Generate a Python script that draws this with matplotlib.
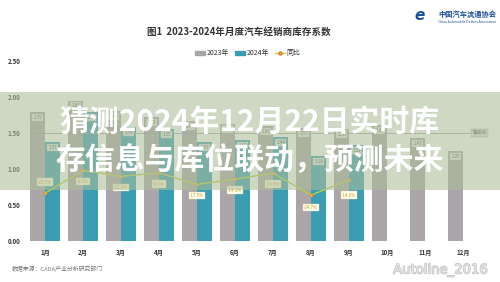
import numpy as np
import matplotlib
matplotlib.use("Agg")
import matplotlib.pyplot as plt
from matplotlib.patches import Rectangle
from matplotlib.lines import Line2D
import matplotlib.patheffects as pe

plt.rcParams['font.family'] = ['Noto Sans CJK SC', 'DejaVu Sans']

# ---- data -------------------------------------------------------------
months = ["1月", "2月", "3月", "4月", "5月", "6月", "7月", "8月", "9月", "10月", "11月", "12月"]
stock_2023 = [1.79, 1.95, 1.80, 1.72, 1.66, 1.63, 1.60, 1.57, 1.56, 1.61, 1.43, 1.25]
stock_2024 = [1.37, 1.79, 1.58, 1.55, 1.37, 1.40, 1.44, 1.18, 1.33]
yoy_pct = [-23.5, -8.2, -12.2, -9.9, -17.5, -14.1, -10.0, -24.7, -14.6]
yticks = [0.00, 0.50, 1.00, 1.50, 2.00, 2.50]
warning_level = 1.50

title = "图1  2023-2024年月度汽车经销商库存系数"
headline = ["猜测2024年12月22日实时库", "存信息与库位联动，预测未来"]

# ---- colours ----------------------------------------------------------
c23 = "#aaa5a8"
c24 = "#3a9db2"
cyoy = "#b9d13a"

W, H = 500, 282
fig = plt.figure(figsize=(W / 100, H / 100), dpi=100)
fig.patch.set_facecolor("white")

ax = fig.add_axes([26 / W, 41 / H, 456 / W, 180 / H])
x = np.arange(len(months))
bw = 0.395
b23 = ax.bar(x - bw / 2, stock_2023, width=bw, color=c23, zorder=2)
b24 = ax.bar(x[:len(stock_2024)] + bw / 2, stock_2024, width=bw, color=c24, zorder=2)

for bars in (b23, b24):
    for r in bars:
        v = r.get_height()
        ax.text(r.get_x() + r.get_width() / 2, v - 0.04, f"{v:.2f}", ha="center", va="top",
                fontsize=3.2, color="#555555", zorder=4,
                bbox=dict(boxstyle="square,pad=0.25", fc="#f4f4ee", ec="#cccccc", lw=0.3, alpha=0.85))

ax.set_xlim(-0.5, len(months) - 0.5)
ax.set_ylim(0, 2.5)
ax.set_yticks(yticks)
ax.set_yticklabels([f"{t:.2f}" for t in yticks])
ax.set_xticks(x)
ax.set_xticklabels(months)
ax.tick_params(axis="both", length=0, labelsize=4.4, colors="#333333")
ax.tick_params(axis="y", pad=4)
ax.tick_params(axis="x", pad=6)
for lab in ax.get_xticklabels() + ax.get_yticklabels():
    lab.set_fontweight("bold")
for s in ax.spines.values():
    s.set_visible(False)
ax.axhline(0, color="#d0d0d0", lw=0.6, zorder=1)
ax.axhline(warning_level, xmin=0.015, xmax=0.972, color="#9a9a9a", lw=0.6, zorder=3)
ax.text(11.25, warning_level, "警戒线", fontsize=3.3, color="#444444",
        ha="left", va="center", zorder=4,
        bbox=dict(boxstyle="square,pad=0.3", fc="#dddddd", ec="#888888", lw=0.3))

# year-on-year line on a hidden secondary axis
ax2 = ax.twinx()
ax2.set_ylim(-55.3, 64.7)
ax2.axis("off")
xi = x[:len(yoy_pct)]
ax2.plot(xi, yoy_pct, color=cyoy, lw=1.0, marker="o", ms=2.2,
         mfc="#f2c61f", mec="#e07a2a", mew=0.4, zorder=5)
offsets = [8, -8, -8, -8, -8, -8, -8, -9, -11]
for xx, v, off in zip(xi, yoy_pct, offsets):
    ax2.annotate(f"{v:.1f}%", (xx, v), textcoords="offset points", xytext=(0, off),
                 ha="center", va="center", fontsize=3.2, color="#c7a21a", zorder=6,
                 bbox=dict(boxstyle="square,pad=0.3", fc="#fffdf0", ec="#e2d9a4", lw=0.3))

# title, legend, source
fig.text(239 / W, 1 - 32 / H, title, ha="center", va="center", fontsize=6.9,
         fontweight="bold", color="#333333")
handles = [Rectangle((0, 0), 1, 1, color=c23), Rectangle((0, 0), 1, 1, color=c24),
           Line2D([0], [0], color=cyoy, lw=1.0, marker="o", ms=2.2, mfc="#f2c61f", mec="#e07a2a")]
fig.legend(handles, ["2023年", "2024年", "同比"], loc="center", bbox_to_anchor=(248 / W, 1 - 53 / H),
           ncol=3, frameon=False, fontsize=5, handlelength=1.4, handleheight=0.5,
           columnspacing=0.8, handletextpad=0.3, labelcolor="#333333")
fig.text(12 / W, 1 - 269 / H, "数据来源：CADA产业分析研究部门", fontsize=4.2, color="#777777",
         ha="left", va="center")

# association mark, top right
fig.text(438 / W, 1 - 14 / H, "中国汽车流通协会", fontsize=5.2, color="#1e4f9e",
         ha="left", va="center", fontweight="bold")
fig.text(438 / W, 1 - 22 / H, "China Automobile Dealers Association", fontsize=2.4,
         color="#1e4f9e", ha="left", va="center")
fig.text(420 / W, 1 - 16 / H, "e", fontsize=11, color="#1e4f9e", ha="center", va="center",
         fontstyle="italic", fontweight="bold", family="DejaVu Sans")

# translucent band with the headline
fig.patches.append(Rectangle((0, 1 - 190 / H), 1, 98 / H, transform=fig.transFigure,
                             facecolor=(0.68, 0.74, 0.60), alpha=0.58, edgecolor="none",
                             zorder=10))
for txt, yc in zip(headline, (122, 160)):
    fig.text(0.5, 1 - yc / H, txt, ha="center", va="center", fontsize=21.5,
             fontweight="heavy", color="white", zorder=11)

# account mark, bottom right
fig.text(441 / W, 1 - 270 / H, "Autoline_2016", fontsize=9.5, color="#e2e2e2",
         ha="center", va="center", family="DejaVu Sans", zorder=12,
         path_effects=[pe.withStroke(linewidth=1.0, foreground="#c4c4c4")])

fig.savefig("out.png", dpi=100)
